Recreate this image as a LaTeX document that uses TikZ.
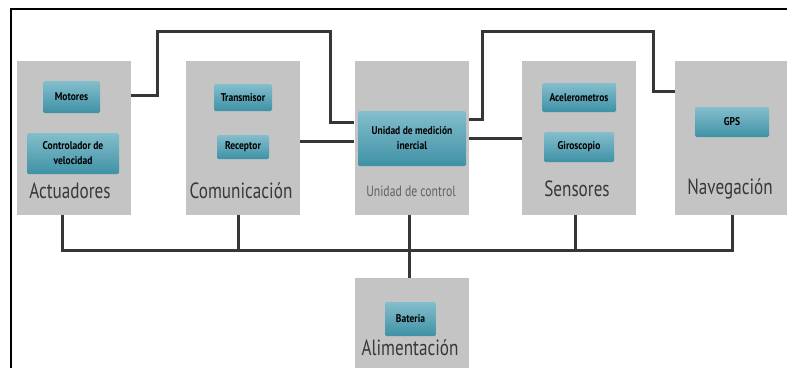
\documentclass[tikz,border=0pt]{standalone}
\usepackage{fontspec}
\setsansfont{PT Sans}
\newfontfamily\etiq[FakeStretch=0.78]{PT Sans}
\newfontfamily\caja[FakeStretch=0.85]{PT Sans}
\definecolor{fondo}{HTML}{C4C4C4}
\definecolor{azulA}{HTML}{84BECC}
\definecolor{azulB}{HTML}{3F91A6}
\definecolor{linea}{HTML}{363636}
\tikzset{
  grupo/.style={fill=fondo, inner sep=0pt, minimum width=114pt, minimum height=154pt},
  modulo/.style={rounded corners=1.5pt, top color=azulA, bottom color=azulB, inner sep=1pt,
    font=\caja\bfseries\fontsize{11.2}{15}\selectfont, align=center},
  titulo/.style={font=\etiq\fontsize{22}{24}\selectfont, text=black!78},
  bus/.style={draw=linea, line width=3pt}
}
\begin{document}
\begin{tikzpicture}[x=1pt, y=-1pt]
\clip (0,0) rectangle (787,368);
\fill[white] (0,0) rectangle (787,368);
\draw[line width=2pt] (11,368) -- (11,9) -- (787,9);
\node[grupo] (act) at (74,138) {};
\node[grupo] (com) at (243,138) {};
\node[grupo] (ctl) at (411.5,138) {};
\node[grupo] (sen) at (579,138) {};
\node[grupo] (nav) at (732,138) {};
\node[grupo, minimum height=90pt] (ali) at (411.5,323) {};
\node[modulo, minimum width=57pt, minimum height=32pt] (mot) at (71.5,97) {Motores};
\node[modulo, minimum width=92pt, minimum height=41pt] (vel) at (73,153.5) {Controlador de\\velocidad};
\node[modulo, minimum width=58pt, minimum height=27pt] (tx) at (243,97.5) {Transmisor};
\node[modulo, minimum width=52pt, minimum height=24pt] (rx) at (243,147) {Receptor};
\node[modulo, minimum width=108pt, minimum height=55pt] (imu) at (412,138.5) {Unidad de medición\\inercial};
\node[modulo, minimum width=74pt, minimum height=29pt] (acc) at (579,97.5) {Acelerometros};
\node[modulo, minimum width=70pt, minimum height=30pt] (gir) at (579,147) {Giroscopio};
\node[modulo, minimum width=74pt, minimum height=30pt] (gps) at (732,122) {GPS};
\node[modulo, minimum width=51pt, minimum height=34pt] (bat) at (410.5,319) {Bateria};
\node[titulo] (tact) at (70,191) {Actuadores};
\node[titulo] (tcom) at (241,191) {Comunicación};
\node[titulo, font=\etiq\fontsize{15}{17}\selectfont, text=black!62] (tctl) at (411,191) {Unidad de control};
\node[titulo] (tsen) at (577,189) {Sensores};
\node[titulo] (tnav) at (730,189) {Navegación};
\node[titulo] (tali) at (410,348) {Alimentación};
\draw[bus] (act.east |- 0,95) -- (157,95) -- (157,31) -- (330,31) |- (ctl.west |- 0,122);
\draw[bus] (com.east |- 0,141) -- (ctl.west |- 0,141);
\draw[bus] (ctl.east |- 0,119) -- (482,119) -- (482,31) -- (653,31) |- (nav.west |- 0,91);
\draw[bus] (ctl.east |- 0,138) -- (sen.west |- 0,138);
\draw[bus] (act.south -| 62,0) -- (62,250) -- (732,250) -- (nav.south -| 732,0);
\foreach \n/\x in {com/238,sen/575} \draw[bus] (\n.south -| \x,0) -- (\x,250);
\draw[bus] (ctl.south -| 409,0) -- (ali.north -| 409,0);
\end{tikzpicture}
\end{document}
